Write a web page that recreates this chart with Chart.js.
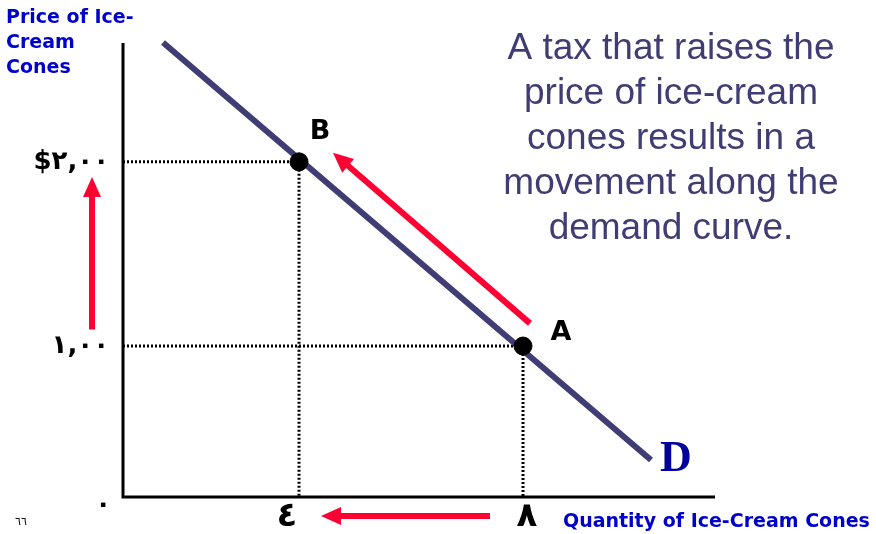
<!DOCTYPE html>
<html>
<head>
<meta charset="utf-8">
<script src="https://cdn.jsdelivr.net/npm/chart.js@4/dist/chart.umd.min.js"></script>
<style>
    html, body { margin: 0; padding: 0; background: #fff; }
    #wrap { position: relative; width: 876px; height: 534px; }
</style>
</head>
<body>
<div id="wrap"><canvas id="chart" width="876" height="534"></canvas></div>
<script>
// Axis positions (the slide is not drawn to scale, so positions are read off the picture)
const quantityTicks = [3.52, 8];
const quantityLabels = ['٤', '٨'];
const priceTicks = [1, 2.22];
const priceLabels = ['١,٠٠', '$٢,٠٠'];
const originLabel = '٠';

// Demand curve end points [quantity, price]
const demandX = [0.8, 10.56];
const demandY = [3.01, 0.245];

// Points on the curve
const pointNames = ['B', 'A'];
const pointX = [3.52, 8];
const pointY = [2.22, 1];

// Arrows: tail -> tip, in axis units
const moveArrowX = [8.14, 4.2];
const moveArrowY = [1.15, 2.28];
const priceArrowX = [-0.62, -0.62];
const priceArrowY = [1.11, 2.12];
const qtyArrowX = [7.34, 3.96];
const qtyArrowY = [-0.126, -0.126];

const NAVY = '#403c74';
const RED = '#ff0033';
const BLUE = '#0000cc';

function guide(i) {
    return [
        { x: 0, y: pointY[i] },
        { x: pointX[i], y: pointY[i] },
        { x: pointX[i], y: 0 },
    ];
}

const decorations = {
    id: 'decorations',
    beforeDatasetsDraw(chart) {
        const { ctx, chartArea: a } = chart;
        ctx.save();
        ctx.strokeStyle = '#000';
        ctx.lineWidth = 3;
        ctx.beginPath();
        ctx.moveTo(a.left, a.top);
        ctx.lineTo(a.left, a.bottom);
        ctx.lineTo(a.right, a.bottom);
        ctx.stroke();
        ctx.restore();
    },
    afterDatasetsDraw(chart) {
        const { ctx } = chart;
        const xs = chart.scales.x;
        const ys = chart.scales.y;

        // arrows
        const arrows = [
            [moveArrowX, moveArrowY],
            [priceArrowX, priceArrowY],
            [qtyArrowX, qtyArrowY],
        ];
        arrows.forEach(([ax, ay]) => {
            const x0 = xs.getPixelForValue(ax[0]);
            const y0 = ys.getPixelForValue(ay[0]);
            const x1 = xs.getPixelForValue(ax[1]);
            const y1 = ys.getPixelForValue(ay[1]);
            const ang = Math.atan2(y1 - y0, x1 - x0);
            const head = 20;
            const half = 9;
            const bx = x1 - head * Math.cos(ang);
            const by = y1 - head * Math.sin(ang);
            ctx.save();
            ctx.strokeStyle = RED;
            ctx.fillStyle = RED;
            ctx.lineWidth = 6;
            ctx.beginPath();
            ctx.moveTo(x0, y0);
            ctx.lineTo(bx + 2 * Math.cos(ang), by + 2 * Math.sin(ang));
            ctx.stroke();
            ctx.beginPath();
            ctx.moveTo(x1, y1);
            ctx.lineTo(bx + half * Math.sin(ang), by - half * Math.cos(ang));
            ctx.lineTo(bx - half * Math.sin(ang), by + half * Math.cos(ang));
            ctx.closePath();
            ctx.fill();
            ctx.restore();
        });

        ctx.save();
        ctx.textBaseline = 'middle';

        // point labels
        ctx.fillStyle = '#000';
        ctx.font = 'bold 27px "DejaVu Sans"';
        ctx.textAlign = 'center';
        const offs = [[21, -30], [38, -13]];
        pointNames.forEach((n, i) => {
            ctx.fillText(n, xs.getPixelForValue(pointX[i]) + offs[i][0], ys.getPixelForValue(pointY[i]) + offs[i][1]);
        });

        // price tick labels
        ctx.font = 'bold 26px "DejaVu Sans"';
        ctx.textAlign = 'right';
        priceTicks.forEach((v, i) => {
            ctx.fillText(priceLabels[i], xs.left - 14, ys.getPixelForValue(v));
        });
        ctx.fillText(originLabel, xs.left - 12, ys.bottom + 8);

        // quantity tick labels
        ctx.textAlign = 'center';
        ctx.font = 'bold 34px "DejaVu Sans"';
        const qdx = [-12, 4];
        quantityTicks.forEach((v, i) => {
            ctx.fillText(quantityLabels[i], xs.getPixelForValue(v) + qdx[i], ys.bottom + 20);
        });

        // axis titles
        ctx.fillStyle = BLUE;
        ctx.textAlign = 'left';
        ctx.font = 'bold 19px "DejaVu Sans"';
        ['Price of Ice-', 'Cream', 'Cones'].forEach((t, i) => {
            ctx.fillText(t, 6, 18 + i * 25);
        });
        ctx.fillText('Quantity of Ice-Cream Cones', 563, 522);

        // curve label
        ctx.fillStyle = '#00009a';
        ctx.font = 'bold 44px "Liberation Serif"';
        ctx.fillText('D', 660, 460);

        // page number
        ctx.fillStyle = '#000';
        ctx.font = '11px "DejaVu Sans"';
        ctx.fillText('٦٦', 15, 522);

        // explanation text
        ctx.fillStyle = NAVY;
        ctx.textAlign = 'center';
        ctx.font = '37px "Liberation Sans"';
        ['A tax that raises the', 'price of ice-cream', 'cones results in a',
            'movement along the', 'demand curve.'].forEach((t, i) => {
            ctx.fillText(t, 671, 49 + i * 45);
        });
        ctx.restore();
    },
};

new Chart(document.getElementById('chart'), {
    type: 'scatter',
    data: {
        // first dataset is drawn on top
        datasets: [
            {
                label: 'points',
                data: pointX.map((x, i) => ({ x, y: pointY[i] })),
                backgroundColor: '#000',
                borderColor: '#000',
                pointRadius: 9,
            },
            {
                label: 'D',
                data: demandX.map((x, i) => ({ x, y: demandY[i] })),
                showLine: true,
                borderColor: NAVY,
                borderWidth: 6,
                pointRadius: 0,
                clip: false,
            },
            {
                label: 'guide B',
                data: guide(0),
                showLine: true,
                borderColor: '#000',
                borderWidth: 3,
                borderDash: [2, 2],
                pointRadius: 0,
            },
            {
                label: 'guide A',
                data: guide(1),
                showLine: true,
                borderColor: '#000',
                borderWidth: 3,
                borderDash: [2, 2],
                pointRadius: 0,
            },
        ],
    },
    options: {
        responsive: false,
        animation: false,
        layout: { padding: { left: 123, right: 161, top: 43, bottom: 37 } },
        plugins: { legend: { display: false }, tooltip: { enabled: false } },
        scales: {
            x: { type: 'linear', min: 0, max: 11.84, display: false },
            y: { type: 'linear', min: 0, max: 3.007, display: false },
        },
    },
    plugins: [decorations],
});
</script>
</body>
</html>
